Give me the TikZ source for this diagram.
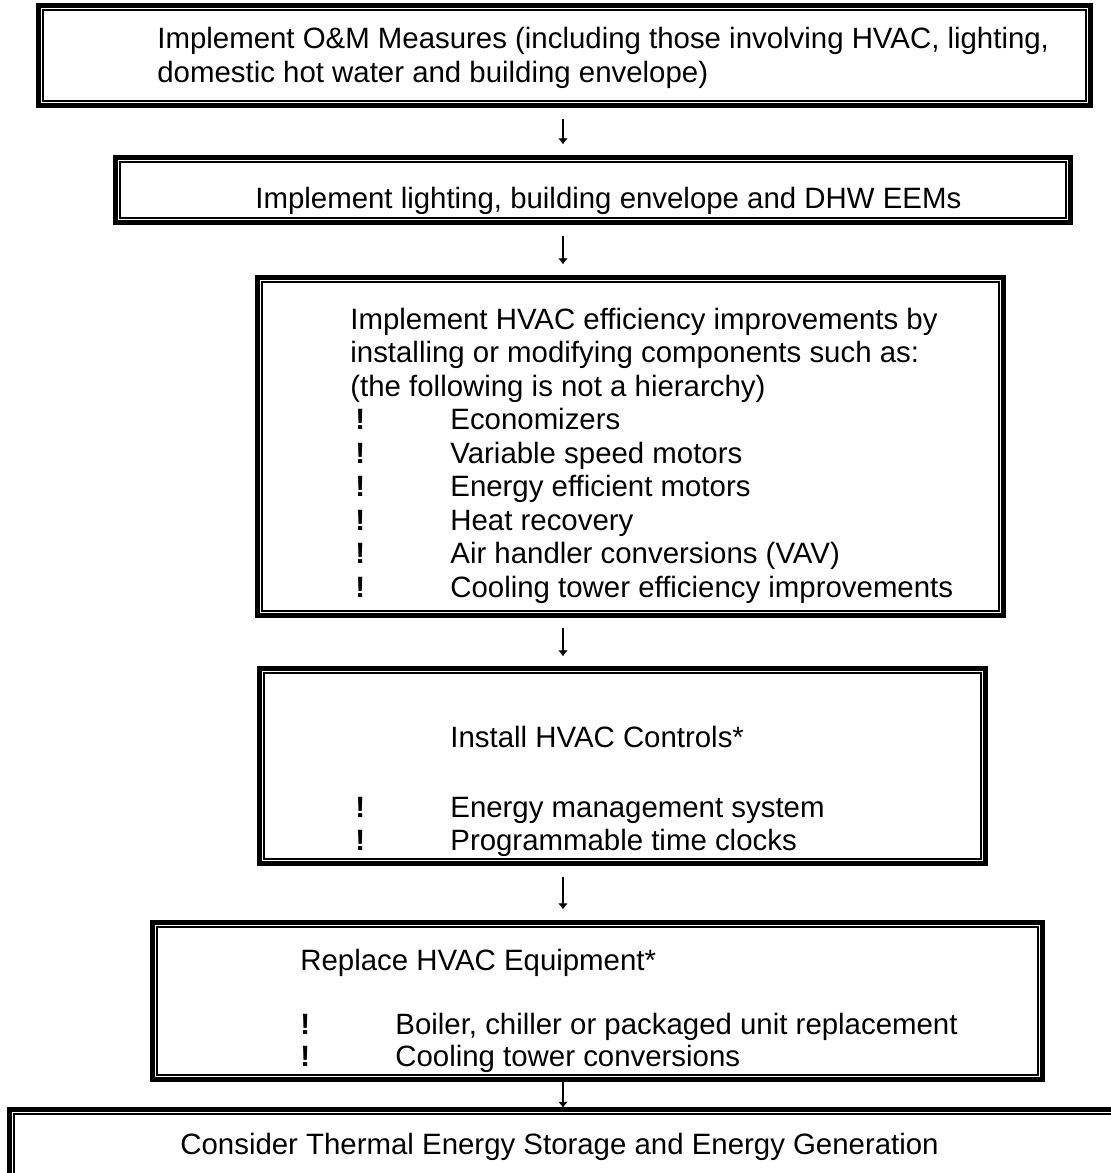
\documentclass[tikz,border=0pt]{standalone}
\usepackage{fontspec}
\setmainfont{Liberation Sans}
\usepackage{tikz}
\usetikzlibrary{arrows.meta, calc, fit, positioning}

\tikzset{
	stagebox/.style={draw, line width=2.35pt, inner sep=0pt, outer sep=0pt},
	innerline/.style={line width=1.15pt},
	txt/.style={anchor=base west, inner sep=0pt, font=\fontsize{14.7pt}{17pt}\selectfont},
	flow/.style={-{Latex[length=3pt,width=5pt]}, line width=1pt}
}

\begin{document}
\begin{tikzpicture}[x=0.5pt, y=-0.5pt]
	\useasboundingbox (0,0) rectangle (1111,1173);
	
	% the six stages, outer edges in pixels
	\foreach \n/\xa/\ya/\xb/\yb in {b1/36/3/1093/108, b2/113/155/1073/225, b3/255/275/1006/618,
		b4/257/666/988/866, b5/150/920/1045/1082, b6/7/1107/1140/1200}
	\node [stagebox, fit={(\xa+2.35,\ya+2.35) (\xb-2.35,\yb-2.35)}] (\n) {};
	
	\foreach \n in {b1,b2,b3,b4,b5,b6}
	\draw [innerline] ([shift={(4.8,4.8)}]\n.north west) rectangle ([shift={(-4.8,-4.8)}]\n.south east);
	
	\node [txt] (t1a) at (157, 48) {Implement O\&M Measures (including those involving HVAC, lighting,};
	\node [txt] (t1b) at (157, 82) {domestic hot water and building envelope)};
	
	\node [txt] (t2) at (255, 208) {Implement lighting, building envelope and DHW EEMs};
	
	\node [txt] (t3a) at (350, 329) {Implement HVAC efficiency improvements by};
	\node [txt] (t3b) at (350, 362.5) {installing or modifying components such as:};
	\node [txt] (t3c) at (350, 396) {(the following is not a hierarchy)};
	\foreach \i/\lbl in {0/Economizers, 1/Variable speed motors, 2/Energy efficient motors,
		3/Heat recovery, 4/Air handler conversions (VAV), 5/Cooling tower efficiency improvements}
	{
		\node [txt] (m\i) at (355, 429.5+33.5*\i) {\textbf{!}};
		\node [txt] (h\i) at (450, 429.5+33.5*\i) {\lbl};
	}
	
	\node [txt] (t4) at (450, 747) {Install HVAC Controls*};
	\foreach \i/\lbl in {0/Energy management system, 1/Programmable time clocks}
	{
		\node [txt] (n\i) at (355, 817+33*\i) {\textbf{!}};
		\node [txt] (c\i) at (450, 817+33*\i) {\lbl};
	}
	
	\node [txt] (t5) at (300, 970) {Replace HVAC Equipment*};
	\foreach \i/\lbl in {0/{Boiler, chiller or packaged unit replacement}, 1/Cooling tower conversions}
	{
		\node [txt] (q\i) at (300, 1034+32*\i) {\textbf{!}};
		\node [txt] (r\i) at (395, 1034+32*\i) {\lbl};
	}
	
	\node [txt] (t6) at (180, 1154) {Consider Thermal Energy Storage and Energy Generation};
	
	% arrows between the stages
	\coordinate (ax) at (563, 0);
	\foreach \a/\b/\s in {b1/b2/6.5pt, b2/b3/6.5pt, b3/b4/6pt, b4/b5/6.5pt, b5/b6/0.8pt}
	\draw [flow, shorten <=\s, shorten >=\s] (\a.south -| ax) -- (\b.north -| ax);
\end{tikzpicture}
\end{document}
